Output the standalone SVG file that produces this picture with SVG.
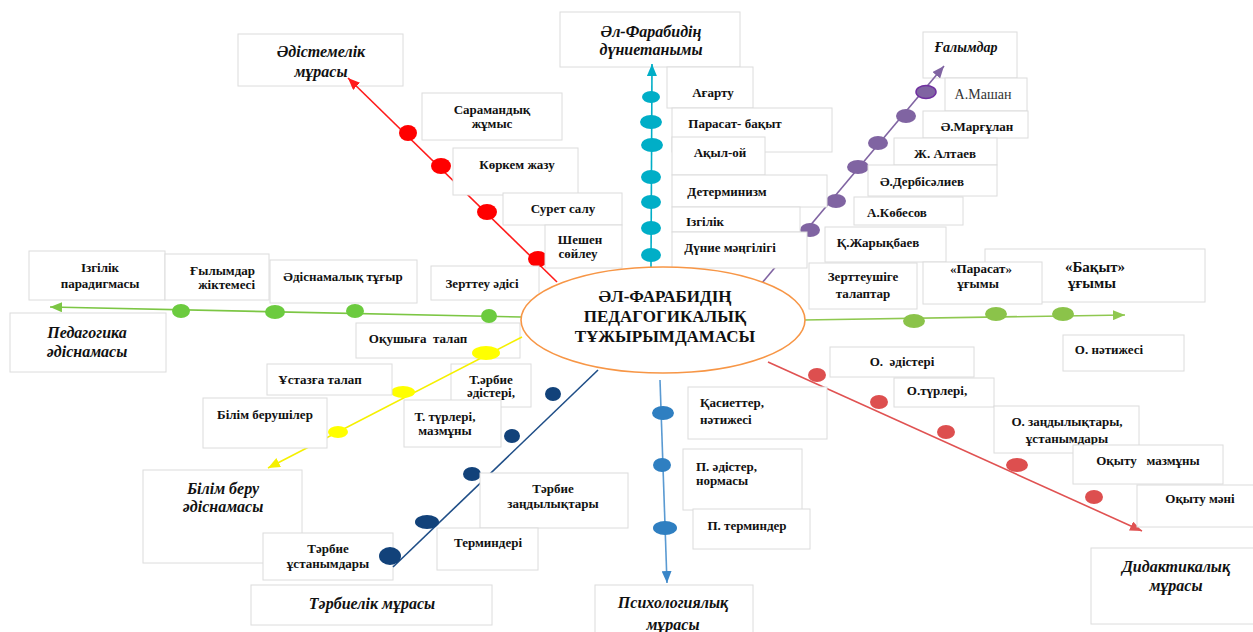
<svg xmlns="http://www.w3.org/2000/svg" width="1253" height="632" viewBox="0 0 1253 632">
<style>
.bx{fill:#fff;stroke:#dcdcdc;stroke-width:1}
.t{font-family:"Liberation Serif","Times New Roman",serif;font-weight:bold;font-size:13px;fill:#111;text-anchor:middle}
.tl{text-anchor:start}
.h{font-family:"Liberation Serif","Times New Roman",serif;font-weight:bold;font-style:italic;font-size:16px;fill:#111;text-anchor:middle}
.c{font-family:"Liberation Serif","Times New Roman",serif;font-weight:bold;font-size:17px;fill:#111;text-anchor:middle}
.ln{fill:none;stroke-width:1.6}
</style>
<defs>
<marker id="aRed" markerUnits="userSpaceOnUse" markerWidth="12" markerHeight="10" refX="12" refY="5" orient="auto"><path d="M0,0 L12,5 L0,10 z" fill="#FF1A1A"/></marker>
<marker id="aCyan" markerUnits="userSpaceOnUse" markerWidth="12" markerHeight="10" refX="12" refY="5" orient="auto"><path d="M0,0 L12,5 L0,10 z" fill="#00AEC7"/></marker>
<marker id="aPur" markerUnits="userSpaceOnUse" markerWidth="12" markerHeight="10" refX="12" refY="5" orient="auto"><path d="M0,0 L12,5 L0,10 z" fill="#8064A2"/></marker>
<marker id="aGrnL" markerUnits="userSpaceOnUse" markerWidth="12" markerHeight="10" refX="12" refY="5" orient="auto"><path d="M0,0 L12,5 L0,10 z" fill="#7CC644"/></marker>
<marker id="aGrnR" markerUnits="userSpaceOnUse" markerWidth="12" markerHeight="10" refX="12" refY="5" orient="auto"><path d="M0,0 L12,5 L0,10 z" fill="#8FC850"/></marker>
<marker id="aYel" markerUnits="userSpaceOnUse" markerWidth="12" markerHeight="10" refX="12" refY="5" orient="auto"><path d="M0,0 L12,5 L0,10 z" fill="#F5F000"/></marker>
<marker id="aBlu" markerUnits="userSpaceOnUse" markerWidth="12" markerHeight="10" refX="12" refY="5" orient="auto"><path d="M0,0 L12,5 L0,10 z" fill="#3A86C8"/></marker>
<marker id="aDid" markerUnits="userSpaceOnUse" markerWidth="12" markerHeight="10" refX="12" refY="5" orient="auto"><path d="M0,0 L12,5 L0,10 z" fill="#E05252"/></marker>
</defs>
<rect width="1253" height="632" fill="#fff"/>

<!-- nodes drawn beneath connectors -->
<g id="n-edistemelik"><rect class="bx" x="238" y="34" width="165" height="52"/><text class="h" x="321" y="57">Әдістемелік</text><text class="h" x="321" y="77">мұрасы</text></g>
<g id="n-dunietanymy"><rect class="bx" x="560" y="12" width="180" height="55"/><text class="h" x="651" y="37">Әл-Фарабидің</text><text class="h" x="651" y="55">дүниетанымы</text></g>
<g id="n-galymdar"><rect class="bx" x="923" y="32" width="94" height="46"/><text class="h" x="966" y="52" style="font-size:14px">Ғалымдар</text></g>
<g id="n-pedagogika"><rect class="bx" x="10" y="313" width="156" height="59"/><text class="h" x="87" y="338">Педагогика</text><text class="h" x="87" y="357">әдіснамасы</text></g>
<g id="n-bilimberu"><rect class="bx" x="143" y="470" width="159" height="93"/><text class="h" x="223" y="494">Білім беру</text><text class="h" x="223" y="512">әдіснамасы</text></g>
<g id="n-ustanym"><rect class="bx" x="263" y="533" width="130" height="47"/><text class="t" x="328" y="553">Тәрбие</text><text class="t" x="328" y="568">ұстанымдары</text></g>
<g id="n-tarbielik"><rect class="bx" x="251" y="585" width="241" height="40"/><text class="h" x="372" y="609">Тәрбиелік мұрасы</text></g>
<g id="n-psych"><rect class="bx" x="595" y="585" width="158" height="52"/><text class="h" x="673" y="608">Психологиялық</text><text class="h" x="673" y="630">мұрасы</text></g>
<g id="n-didactic"><rect class="bx" x="1091" y="548" width="165" height="76"/><text class="h" x="1176" y="572">Дидактикалық</text><text class="h" x="1176" y="591">мұрасы</text></g>
<g id="n-okushy"><rect class="bx" x="356" y="323" width="164" height="35"/><text class="t" x="418" y="343" style="white-space:pre">Оқушыға  талап</text></g>
<g id="n-tarbie-edis"><rect class="bx" x="451" y="364" width="80" height="43"/><text class="t" x="491" y="384">Т.әрбие</text><text class="t" x="491" y="397">әдістері,</text></g>

<g id="connectors">
<line class="ln" x1="557" y1="282" x2="348" y2="78" stroke="#FF1A1A" marker-end="url(#aRed)"/>
<line class="ln" x1="651" y1="268" x2="652" y2="64" stroke="#00AEC7" marker-end="url(#aCyan)"/>
<line class="ln" x1="762" y1="283" x2="944" y2="66" stroke="#8064A2" marker-end="url(#aPur)"/>
<line class="ln" x1="521" y1="317" x2="50" y2="307" stroke="#7CC644" marker-end="url(#aGrnL)"/>
<line class="ln" x1="803" y1="320" x2="1125" y2="315" stroke="#8FC850" marker-end="url(#aGrnR)"/>
<line class="ln" x1="522" y1="337" x2="268" y2="468" stroke="#F5F000" marker-end="url(#aYel)"/>
<line class="ln" x1="598" y1="370" x2="393" y2="567" stroke="#1F4E87"/>
<line class="ln" x1="660" y1="380" x2="667" y2="583" stroke="#5A9AD2" marker-end="url(#aBlu)"/>
<line class="ln" x1="768" y1="362" x2="1142" y2="531" stroke="#E05252" marker-end="url(#aDid)"/>
<g fill="#FF0000">
<ellipse cx="408" cy="133" rx="9" ry="8"/><ellipse cx="441" cy="166" rx="10" ry="8"/><ellipse cx="487" cy="212" rx="10" ry="8"/><ellipse cx="538" cy="259" rx="10" ry="8"/>
</g>
<g fill="#00AEC7">
<ellipse cx="651" cy="97" rx="9" ry="6"/><ellipse cx="651" cy="122" rx="11" ry="7"/><ellipse cx="652" cy="145" rx="11" ry="7"/><ellipse cx="651" cy="177" rx="10" ry="7"/><ellipse cx="651" cy="202" rx="10" ry="7"/><ellipse cx="651" cy="228" rx="10" ry="7"/><ellipse cx="651" cy="255" rx="10" ry="7"/>
</g>
<g fill="#8064A2">
<ellipse cx="926" cy="92" rx="10" ry="6.5" stroke="#7030A0" stroke-width="1.5"/><ellipse cx="906" cy="116" rx="10" ry="7"/><ellipse cx="878" cy="143" rx="10" ry="7"/><ellipse cx="858" cy="167" rx="11" ry="7"/><ellipse cx="836" cy="201" rx="10" ry="7"/><ellipse cx="810" cy="230" rx="10" ry="7"/>
</g>
<g fill="#6CCB3F">
<ellipse cx="181" cy="311" rx="9" ry="7"/><ellipse cx="275" cy="312" rx="10" ry="7"/><ellipse cx="355" cy="311" rx="9" ry="7"/><ellipse cx="489" cy="316" rx="8" ry="7"/>
</g>
<g fill="#8BC34A">
<ellipse cx="914" cy="321" rx="11" ry="7"/><ellipse cx="996" cy="314" rx="11" ry="7"/><ellipse cx="1063" cy="314" rx="11" ry="7"/>
</g>
<g fill="#FFFF00">
<ellipse cx="486" cy="353" rx="14" ry="7"/><ellipse cx="403" cy="392" rx="12" ry="6"/><ellipse cx="338" cy="432" rx="10" ry="6"/>
</g>
<g fill="#12427A">
<ellipse cx="553" cy="394" rx="8" ry="7"/><ellipse cx="512" cy="436" rx="8" ry="7"/><ellipse cx="472" cy="474" rx="9" ry="7"/><ellipse cx="427" cy="522" rx="12" ry="7"/><ellipse cx="390" cy="556" rx="11" ry="9"/>
</g>
<g fill="#2F7FC1">
<ellipse cx="663" cy="413" rx="11" ry="7"/><ellipse cx="662" cy="465" rx="9" ry="7"/><ellipse cx="665" cy="528" rx="12" ry="7"/>
</g>
<g fill="#DD4F4F">
<ellipse cx="817" cy="375" rx="9" ry="7"/><ellipse cx="879" cy="402" rx="9" ry="7"/><ellipse cx="946" cy="432" rx="9" ry="7"/><ellipse cx="1017" cy="465" rx="11" ry="7"/><ellipse cx="1094" cy="497" rx="9" ry="7"/>
</g>
</g>

<!-- red branch -->
<g id="n-saramandyk"><rect class="bx" x="422" y="93" width="140" height="47"/><text class="t" x="492" y="114">Сарамандық</text><text class="t" x="492" y="128">жұмыс</text></g>
<g id="n-korkem"><rect class="bx" x="453" y="148" width="125" height="47"/><text class="t" x="517" y="169">Көркем жазу</text></g>
<g id="n-suret"><rect class="bx" x="503" y="193" width="119" height="32"/><text class="t" x="563" y="213">Сурет салу</text></g>
<g id="n-sheshen"><rect class="bx" x="545" y="225" width="77" height="43"/><text class="t" x="580" y="244">Шешен</text><text class="t" x="578" y="258">сөйлеу</text></g>
<!-- cyan branch -->
<g id="n-agartu"><rect class="bx" x="667" y="67" width="86" height="41"/><text class="t" x="713" y="97">Ағарту</text></g>
<g id="n-parasat-bakyt"><rect class="bx" x="672" y="108" width="160" height="44"/><text class="t" x="735" y="128">Парасат- бақыт</text></g>
<g id="n-akyl"><rect class="bx" x="672" y="137" width="93" height="38"/><text class="t" x="720" y="157">Ақыл-ой</text></g>
<g id="n-determinizm"><rect class="bx" x="672" y="175" width="155" height="32"/><text class="t" x="727" y="196">Детерминизм</text></g>
<g id="n-izgilik"><rect class="bx" x="672" y="207" width="128" height="25"/><text class="t" x="705" y="226">Ізгілік</text></g>
<g id="n-dunie"><rect class="bx" x="672" y="232" width="135" height="36"/><text class="t" x="730" y="252">Дүние мәңгілігі</text></g>
<!-- purple branch -->
<g id="n-mashan"><rect class="bx" x="945" y="78" width="82" height="33"/><text class="t" x="983" y="99" style="font-weight:normal;font-size:14px;fill:#333">А.Машан</text></g>
<g id="n-margulan"><rect class="bx" x="923" y="111" width="105" height="27"/><text class="t" x="977" y="131">Ә.Марғұлан</text></g>
<g id="n-altaev"><rect class="bx" x="894" y="138" width="103" height="27"/><text class="t" x="945" y="158">Ж. Алтаев</text></g>
<g id="n-derbisaliev"><rect class="bx" x="868" y="165" width="129" height="31"/><text class="t" x="922" y="186">Ә.Дербісәлиев</text></g>
<g id="n-kobesov"><rect class="bx" x="854" y="197" width="109" height="28"/><text class="t" x="897" y="217">А.Көбесов</text></g>
<g id="n-zharykbaev"><rect class="bx" x="825" y="227" width="121" height="35"/><text class="t" x="878" y="247">Қ.Жарықбаев</text></g>
<!-- green left -->
<g id="n-izgilik-paradigma"><rect class="bx" x="29" y="251" width="136" height="49"/><text class="t" x="100" y="272">Ізгілік</text><text class="t" x="100" y="288">парадигмасы</text></g>
<g id="n-gylymdar"><rect class="bx" x="165" y="254" width="104" height="46"/><text class="t" x="255" y="275" style="text-anchor:end">Ғылымдар</text><text class="t" x="255" y="289" style="text-anchor:end">жіктемесі</text></g>
<g id="n-edisnamalyk"><rect class="bx" x="270" y="260" width="147" height="43"/><text class="t" x="343" y="281">Әдіснамалық тұғыр</text></g>
<g id="n-zertteu"><rect class="bx" x="431" y="266" width="108" height="34"/><text class="t" x="482" y="288">Зерттеу әдісі</text></g>
<!-- green right -->
<g id="n-bakyt"><rect class="bx" x="985" y="249" width="220" height="53"/><text class="t" x="1095" y="272" style="font-size:15px">«Бақыт»</text><text class="t" x="1092" y="288" style="font-size:15px">ұғымы</text></g>
<g id="n-parasat"><rect class="bx" x="923" y="262" width="119" height="42"/><text class="t" x="981" y="273">«Парасат»</text><text class="t" x="978" y="288">ұғымы</text></g>
<g id="n-zertteushi"><rect class="bx" x="809" y="263" width="108" height="46"/><text class="t" x="863" y="281">Зерттеушіге</text><text class="t" x="863" y="298">талаптар</text></g>
<g id="n-o-natizhe"><rect class="bx" x="1063" y="335" width="121" height="36"/><text class="t" x="1109" y="354">О. нәтижесі</text></g>
<!-- yellow branch -->
<g id="n-ustaz"><rect class="bx" x="267" y="364" width="125" height="31"/><text class="t" x="320" y="384">Ұстазға талап</text></g>
<g id="n-bilim-berushi"><rect class="bx" x="203" y="398" width="124" height="50"/><text class="t" x="265" y="419">Білім берушілер</text></g>
<!-- navy branch -->
<g id="n-t-turleri"><rect class="bx" x="404" y="400" width="97" height="47"/><text class="t" x="445" y="421">Т. түрлері,</text><text class="t" x="445" y="435">мазмұны</text></g>
<g id="n-zandylyk"><rect class="bx" x="480" y="473" width="148" height="55"/><text class="t" x="553" y="493">Тәрбие</text><text class="t" x="553" y="508">заңдылықтары</text></g>
<g id="n-terminderi"><rect class="bx" x="437" y="528" width="101" height="42"/><text class="t" x="488" y="547">Терминдері</text></g>
<!-- psychology branch -->
<g id="n-kasietter"><rect class="bx" x="688" y="387" width="139" height="52"/><text class="t tl" x="700" y="407">Қасиеттер,</text><text class="t tl" x="700" y="424">нәтижесі</text></g>
<g id="n-p-edister"><rect class="bx" x="683" y="449" width="119" height="61"/><text class="t tl" x="696" y="471">П. әдістер,</text><text class="t tl" x="696" y="485">нормасы</text></g>
<g id="n-p-terminder"><rect class="bx" x="693" y="509" width="117" height="40"/><text class="t" x="747" y="530">П. терминдер</text></g>
<!-- didactic branch -->
<g id="n-o-edisteri"><rect class="bx" x="830" y="347" width="144" height="30"/><text class="t" x="902" y="366" style="white-space:pre">О.  әдістері</text></g>
<g id="n-o-turleri"><rect class="bx" x="894" y="378" width="100" height="29"/><text class="t" x="937" y="395">О.түрлері,</text></g>
<g id="n-o-zandylyk"><rect class="bx" x="994" y="406" width="145" height="47"/><text class="t" x="1067" y="426">О. заңдылықтары,</text><text class="t" x="1067" y="443">ұстанымдары</text></g>
<g id="n-okytu-mazmuny"><rect class="bx" x="1073" y="445" width="150" height="39"/><text class="t" x="1148" y="465" style="white-space:pre">Оқыту   мазмұны</text></g>
<g id="n-okytu-mani"><rect class="bx" x="1137" y="485" width="120" height="42"/><text class="t" x="1200" y="503">Оқыту мәні</text></g>

<!-- centre -->
<g id="n-center"><ellipse cx="663" cy="320" rx="142" ry="53" fill="#fff" stroke="#F79646" stroke-width="1.6"/><text class="c" x="665" y="302">ӘЛ-ФАРАБИДІҢ</text><text class="c" x="665" y="322">ПЕДАГОГИКАЛЫҚ</text><text class="c" x="665" y="342">ТҰЖЫРЫМДАМАСЫ</text></g>
</svg>
